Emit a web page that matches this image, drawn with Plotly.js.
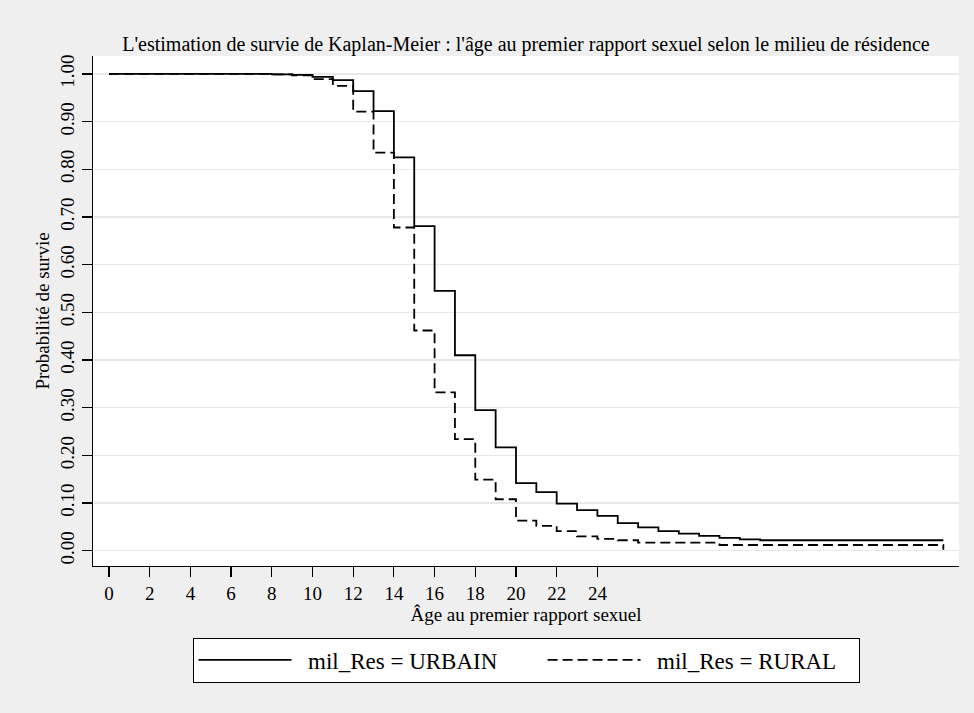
<!DOCTYPE html>
<html>
<head>
<meta charset="utf-8">
<script src="https://cdn.plot.ly/plotly-3.0.1.min.js"></script>
<style>html,body{margin:0;padding:0;background:#efefef;}#chart{width:974px;height:713px;}</style>
</head>
<body>
<div id="chart"></div>
<script>
// Ages (years) at which each step begins
const ages = [0,1,2,3,4,5,6,7,8,9,10,11,12,13,14,15,16,17,18,19,20,21,22,23,24,25,26,27,28,29,30,31,32,33,34,35,36,37,38,39,40,41];
// Kaplan-Meier survival, milieu urbain
const urbain = [1.000,1.000,1.000,1.000,1.000,1.000,1.000,1.000,0.999,0.998,0.994,0.987,0.964,0.922,0.825,0.681,0.545,0.410,0.295,0.217,0.142,0.123,0.099,0.085,0.073,0.058,0.049,0.041,0.036,0.031,0.027,0.024,0.022,0.022,0.022,0.022,0.022,0.022,0.022,0.022,0.022,0.022];
// Kaplan-Meier survival, milieu rural
const rural = [1.000,1.000,1.000,1.000,1.000,1.000,1.000,1.000,0.999,0.997,0.989,0.975,0.921,0.835,0.678,0.462,0.332,0.234,0.149,0.108,0.063,0.052,0.041,0.030,0.025,0.022,0.017,0.017,0.017,0.017,0.012,0.012,0.012,0.012,0.012,0.012,0.012,0.012,0.012,0.012,0.012,0.002];
const seriesNames = ['mil_Res = URBAIN', 'mil_Res = RURAL'];
const xTicks = [0,2,4,6,8,10,12,14,16,18,20,22,24];
const yTicks = [0,0.1,0.2,0.3,0.4,0.5,0.6,0.7,0.8,0.9,1.0];

const font = "'Liberation Serif', 'Times New Roman', serif";
const NB = '\u00a0';

const traces = [
  {x: ages, y: urbain, mode: 'lines', line: {shape: 'hv', color: '#000', width: 1.8},
   name: NB + NB + seriesNames[0] + NB.repeat(7)},
  {x: ages, y: rural, mode: 'lines', line: {shape: 'hv', color: '#000', width: 1.8, dash: '10px,5px'},
   name: NB + NB + seriesNames[1] + NB.repeat(3)}
];

const layout = {
  width: 974, height: 713,
  paper_bgcolor: '#efefef', plot_bgcolor: '#ffffff',
  font: {family: font, color: '#000', size: 19},
  margin: {l: 93, r: 15, t: 56, b: 147},
  title: {text: "L'estimation de survie de Kaplan-Meier : l'âge au premier rapport sexuel selon le milieu de résidence",
          font: {family: font, size: 20, color: '#000'}, x: 0.5, xref: 'paper', y: 1 - 44/713, yref: 'container', yanchor: 'middle'},
  xaxis: {range: [-0.786, 41.77], tickvals: xTicks, ticktext: xTicks.map(String), ticks: 'outside', ticklen: 10, tickwidth: 1.2, tickcolor: '#000',
          showline: true, linecolor: '#000', linewidth: 1.2, showgrid: false, zeroline: false,
          tickfont: {family: font, size: 19},
          title: {text: 'Âge au premier rapport sexuel', font: {family: font, size: 19}, standoff: 0}},
  yaxis: {range: [-0.032, 1.0377], tickvals: yTicks, ticktext: yTicks.map(v => v.toFixed(2)), tickangle: -90, ticks: 'outside', ticklen: 10, tickwidth: 1.2, tickcolor: '#000',
          showline: true, linecolor: '#000', linewidth: 1.2, showgrid: true, gridcolor: '#e8e8e8', gridwidth: 1.5, zeroline: false,
          tickfont: {family: font, size: 19},
          title: {text: 'Probabilité de survie', font: {family: font, size: 19}, standoff: 2}},
  showlegend: true,
  legend: {orientation: 'h', x: 0.5, xanchor: 'center', xref: 'paper', y: 1 - 660/713, yref: 'container', yanchor: 'middle',
           bgcolor: '#ffffff', bordercolor: '#000', borderwidth: 1, font: {family: font, size: 23},
           itemwidth: 93, tracegroupgap: 0}
};

Plotly.newPlot('chart', traces, layout, {displayModeBar: false, staticPlot: true});
</script>
</body>
</html>
